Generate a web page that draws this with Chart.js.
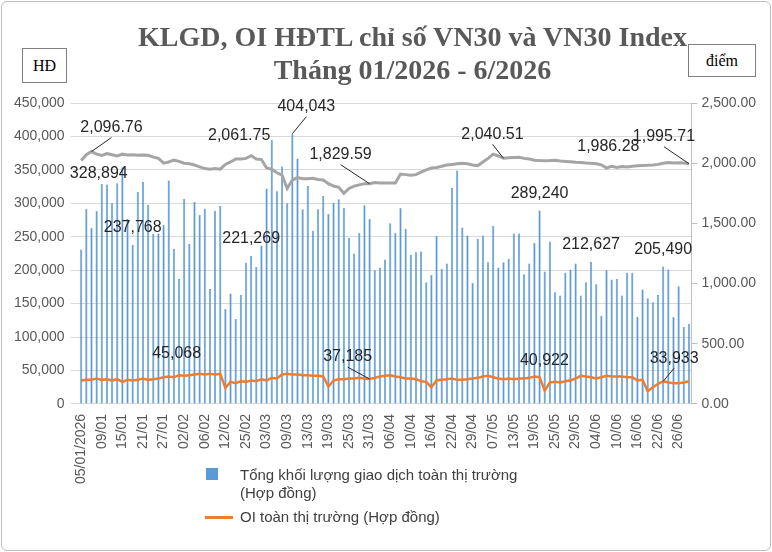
<!DOCTYPE html>
<html><head><meta charset="utf-8">
<script src="https://cdn.jsdelivr.net/npm/chart.js@4.4.1/dist/chart.umd.min.js"></script>
<style>
body{margin:0;background:#fff;}
#wrap{position:relative;width:772px;height:552px;overflow:hidden;}
#frame{position:absolute;left:1px;top:1px;width:768px;height:548px;border:1px solid #bfbfbf;border-radius:6px;}
#title{position:absolute;left:110px;width:605px;top:20px;text-align:center;font:bold 28px "Liberation Serif",serif;color:#595959;line-height:33px;}
.box{position:absolute;border:1px solid #7f7f7f;font:16px "Liberation Serif",serif;color:#000;text-align:center;background:#fff;}
#cv{position:absolute;left:0;top:0;}
.leg{position:absolute;font:15px "Liberation Sans",sans-serif;color:#404040;line-height:18px;}
</style></head><body>
<div id="wrap">
<div id="frame"></div>
<canvas id="cv" width="772" height="490"></canvas>
<div id="title">KLGD, OI HĐTL chỉ số VN30 và VN30 Index<br>Tháng 01/2026 - 6/2026</div>
<div class="box" style="left:22px;top:48px;width:43px;height:33px;line-height:33px;">HĐ</div>
<div class="box" style="left:688px;top:44px;width:66px;height:31px;line-height:31px;">điểm</div>
<div style="position:absolute;left:206px;top:468px;width:12px;height:12px;background:#5b9bd5;"></div>
<div class="leg" style="left:240px;top:466px;">Tổng khối lượng giao dịch toàn thị trường<br>(Hợp đồng)</div>
<div style="position:absolute;left:205px;top:516px;width:28px;height:3px;background:#ed7d31;"></div>
<div class="leg" style="left:240px;top:508px;">OI toàn thị trường (Hợp đồng)</div>
</div>
<script>
const dates = [
"05/01/2026","06/01","07/01","08/01","09/01","12/01","13/01","14/01","15/01","16/01",
"19/01","20/01","21/01","22/01","23/01","26/01","27/01","28/01","29/01","30/01",
"02/02","03/02","04/02","05/02","06/02","09/02","10/02","11/02","12/02","13/02",
"23/02","24/02","25/02","26/02","27/02","02/03","03/03","04/03","05/03","06/03",
"09/03","10/03","11/03","12/03","13/03","16/03","17/03","18/03","19/03","20/03",
"23/03","24/03","25/03","26/03","27/03","30/03","31/03","01/04","02/04","03/04",
"06/04","07/04","08/04","09/04","10/04","13/04","14/04","15/04","16/04","17/04",
"20/04","21/04","22/04","23/04","24/04","28/04","29/04","04/05","05/05","06/05",
"07/05","08/05","11/05","12/05","13/05","14/05","15/05","18/05","19/05","20/05",
"21/05","22/05","25/05","26/05","27/05","28/05","29/05","01/06","02/06","03/06",
"04/06","05/06","08/06","09/06","10/06","11/06","12/06","15/06","16/06","17/06",
"18/06","19/06","22/06","23/06","24/06","25/06","26/06","29/06","30/06"];
const volume = [
231000,292000,263000,289000,328894,328000,300000,330000,354000,277000,
237768,317000,332000,298000,254000,255000,268000,334000,232000,187000,
307000,239000,302000,283000,292000,172000,289000,296000,142000,165000,
127000,163000,211000,221269,205000,237000,322000,395000,318000,355000,
300000,404043,367000,291000,326000,259000,291000,311000,284000,301000,
306000,293000,248000,225000,256000,297000,277000,200000,204000,216000,
270000,256000,293000,262000,223000,227000,228000,182000,193000,251000,
202000,210000,323000,349000,264000,252000,181000,247000,252000,212000,
266000,204000,212000,217000,255000,255000,194000,210000,241000,289240,
198000,243000,167000,162000,196000,201000,210000,162000,182000,212627,
179000,132000,200000,186000,187000,162000,196000,196000,130000,171000,
158000,152000,163000,205490,201000,130000,176000,115000,120000];
const oi = [
35000,36000,36000,38000,36000,37000,35000,37000,33000,36000,
35000,36000,38000,36000,37000,38000,40000,41000,40000,43000,
42000,43000,44000,45068,44000,45000,44000,45000,24000,33000,
31000,34000,33000,35000,34000,37000,35000,39000,38000,44000,
45000,44000,44000,43000,43000,42000,42000,41000,26000,35000,
37000,37000,38000,38000,39000,38000,37185,39000,41000,42000,
43000,41000,40000,38000,38000,37000,34000,33000,25000,35000,
36000,37000,38000,36000,36000,37000,38000,39000,41000,42000,
40000,38000,37000,38000,37000,38000,38000,39000,40922,40000,
20000,32000,33000,32000,34000,35000,38000,42000,41000,40000,
38000,40000,42000,41000,41000,41000,40000,40000,35000,36000,
19000,25000,30000,33933,32000,31000,31000,32000,34000];
const vn30 = [
2022,2070,2096.76,2075,2065,2080,2070,2060,2075,2068,
2070,2065,2068,2066,2050,2040,2000,2010,2025,2015,
2000,1995,1985,1970,1955,1950,1955,1950,1990,2010,
2035,2035,2040,2061.75,2035,2030,1960,1950,1920,1900,
1790,1860,1880,1870,1870,1875,1865,1860,1830,1810,
1800,1750,1790,1810,1820,1830,1829.59,1840,1835,1835,
1835,1835,1910,1905,1900,1905,1925,1945,1960,1965,
1975,1985,1990,1995,2000,1995,1985,1980,2010,2040,
2075,2060,2040.51,2045,2048,2050,2040,2035,2025,2022,
2020,2022,2025,2018,2015,2012,2008,2005,2002,2000,
1995,1986.28,1960,1975,1965,1972,1968,1975,1978,1980,
1982,1985,1990,2000,2005,2002,2003,2001,1995.71];

const notes = [
 {ds:2,i:2,t:"2,096.76",dx:20,dy:-24,lead:true},
 {ds:0,i:4,t:"328,894",dx:-3,dy:-10},
 {ds:0,i:10,t:"237,768",dx:0,dy:-17},
 {ds:1,i:23,t:"45,068",dx:-23,dy:-20},
 {ds:2,i:33,t:"2,061.75",dx:-12,dy:-20},
 {ds:0,i:33,t:"221,269",dx:0,dy:-17},
 {ds:0,i:41,t:"404,043",dx:14,dy:-27,lead:true},
 {ds:2,i:56,t:"1,829.59",dx:-29,dy:-29,lead:true},
 {ds:1,i:56,t:"37,185",dx:-22,dy:-22,lead:true},
 {ds:2,i:82,t:"2,040.51",dx:-11,dy:-24,lead:true},
 {ds:0,i:89,t:"289,240",dx:0,dy:-17},
 {ds:1,i:88,t:"40,922",dx:10,dy:-16},
 {ds:2,i:101,t:"1,986.28",dx:7,dy:-18},
 {ds:0,i:99,t:"212,627",dx:0,dy:-17},
 {ds:0,i:113,t:"205,490",dx:0,dy:-17},
 {ds:2,i:118,t:"1,995.71",dx:-25,dy:-27,lead:true},
 {ds:1,i:113,t:"33,933",dx:11,dy:-23,lead:true}
];
const notePlugin = {id:'notes',afterDatasetsDraw(chart){
  const ctx=chart.ctx; ctx.save();
  ctx.font='16px "Liberation Sans", sans-serif'; ctx.textAlign='center'; ctx.textBaseline='middle';
  notes.forEach(n=>{
    const el=chart.getDatasetMeta(n.ds).data[n.i];
    const px=el.x, py=el.y, tx=px+n.dx, ty=py+n.dy;
    if(n.lead){ctx.strokeStyle='#262626';ctx.lineWidth=1;ctx.beginPath();ctx.moveTo(tx,ty+10);ctx.lineTo(px,py);ctx.stroke();}
    ctx.fillStyle='#262626'; ctx.fillText(n.t,tx,ty);
  });
  ctx.restore();
}};
const tickFont={family:'"Liberation Sans", sans-serif',size:14};
new Chart(document.getElementById('cv'),{
  data:{labels:dates,datasets:[
    {type:'bar',label:'Tổng khối lượng giao dịch toàn thị trường (Hợp đồng)',data:volume,yAxisID:'y',backgroundColor:'#5b9bd5',borderColor:'#4f8ac2',borderWidth:0.5,categoryPercentage:1,barPercentage:0.42,order:3},
    {type:'line',label:'OI toàn thị trường (Hợp đồng)',data:oi,yAxisID:'y',borderColor:'#ed7d31',borderWidth:2.5,pointRadius:0,tension:0,order:1},
    {type:'line',label:'VN30 Index',data:vn30,yAxisID:'y2',borderColor:'#a5a5a5',borderWidth:3,pointRadius:0,tension:0,order:2}
  ]},
  options:{responsive:false,animation:false,
    layout:{padding:{top:103,left:8,right:12,bottom:4}},
    plugins:{legend:{display:false},tooltip:{enabled:false}},
    scales:{
      x:{grid:{display:false},border:{color:'#d9d9d9'},
         ticks:{autoSkip:false,maxRotation:90,minRotation:90,color:'#595959',font:{family:'"Liberation Sans", sans-serif',size:14},padding:2,
           callback:function(v,i){return i%4===0?dates[i]:'';}}},
      y:{position:'left',min:0,max:450000,grid:{color:'#d9d9d9'},border:{display:false},
         ticks:{stepSize:50000,color:'#595959',font:tickFont,padding:6,callback:v=>v.toLocaleString('en-US')}},
      y2:{position:'right',min:0,max:2500,grid:{drawOnChartArea:false,color:'#bfbfbf',tickLength:6},border:{color:'#bfbfbf'},
         ticks:{stepSize:500,color:'#595959',font:tickFont,padding:4,callback:v=>v.toLocaleString('en-US',{minimumFractionDigits:2,maximumFractionDigits:2})}}
    }
  },
  plugins:[notePlugin]
});
</script>
</body></html>
